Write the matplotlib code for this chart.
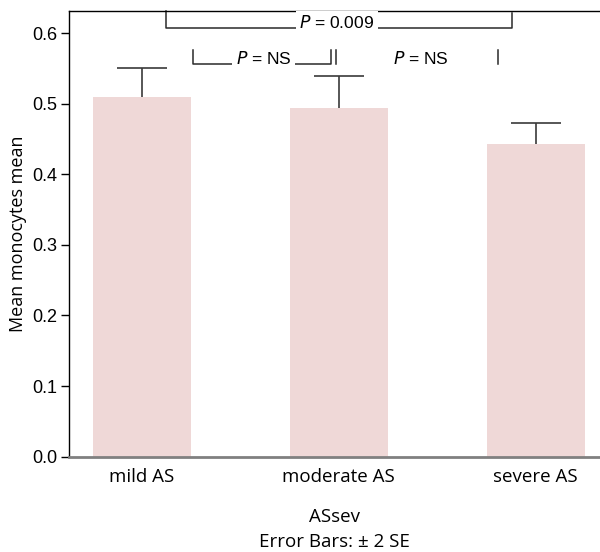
import matplotlib.pyplot as plt

# data
groups = ["mild AS", "moderate AS", "severe AS"]
means = [0.5095, 0.4935, 0.443]
upper = [0.551, 0.5388, 0.4722]   # mean + 2 SE

# comparison annotations
top_p = "0.009"
pair_p = "NS"

narrow = ["Liberation Sans Narrow", "Liberation Sans", "DejaVu Sans"]
body = ["Open Sans", "DejaVu Sans"]

fig = plt.figure(figsize=(6, 5.52), dpi=100)
ax = fig.add_axes([68.5 / 600, 1 - 456.7 / 552, 1 - 68.5 / 600, (456.7 - 10.7) / 552])

x = range(len(groups))
ax.bar(x, means, width=0.5, color="#efd8d7", zorder=1)
err_up = [u - m for u, m in zip(upper, means)]
eb = ax.errorbar(x, means, yerr=[[0] * 3, err_up], fmt="none", ecolor="#3a3a3a",
                 elinewidth=1.2, capsize=18, capthick=1.2, zorder=2)
# only the upper whisker carries a cap
eb[1][0].set_visible(False)

ax.set_xlim(-0.372, 2.326)
ax.set_ylim(0, 0.6317)
ax.set_yticks([0.0, 0.1, 0.2, 0.3, 0.4, 0.5, 0.6])
ax.set_yticklabels([f"{v:.1f}" for v in ax.get_yticks()], family=narrow, fontsize=13)
ax.set_xticks(list(x))
ax.set_xticklabels(groups, family=body, fontsize=13.5)
ax.tick_params(axis="x", length=0, pad=8)
ax.tick_params(axis="y", length=6, width=1, pad=2)

ax.spines["right"].set_visible(False)
ax.spines["bottom"].set_color("#808080")
ax.spines["bottom"].set_linewidth(2)
ax.spines["left"].set_linewidth(1)
ax.spines["top"].set_linewidth(1)

ax.set_ylabel("Mean monocytes mean", family=body, fontsize=13, labelpad=4)
ax.set_xlabel("ASsev\nError Bars: ± 2 SE", family=body, fontsize=13.5,
              labelpad=16, linespacing=1.5)

lc = "#2a2a2a"
# overall bracket mild vs severe
ax.plot([0.124, 0.124, 1.877, 1.877], [0.6317, 0.6068, 0.6068, 0.629],
        color=lc, lw=1.1, clip_on=False)
ax.text(0.99, 0.6068, f"$P$ = {top_p}", ha="center", va="baseline",
        family=narrow, fontsize=12.5,
        bbox=dict(facecolor="white", edgecolor="none", pad=2.5))

# mild vs moderate
ax.plot([0.261, 0.261, 0.960, 0.960], [0.576, 0.5562, 0.5562, 0.576],
        color=lc, lw=1.1)
ax.text(0.618, 0.5562, f"$P$ = {pair_p}", ha="center", va="baseline",
        family=narrow, fontsize=12.5,
        bbox=dict(facecolor="white", edgecolor="none", pad=2.5))

# moderate vs severe
ax.plot([0.984, 0.984], [0.576, 0.5562], color=lc, lw=1.1)
ax.plot([1.809, 1.809], [0.576, 0.5562], color=lc, lw=1.1)
ax.text(1.417, 0.5562, f"$P$ = {pair_p}", ha="center", va="baseline",
        family=narrow, fontsize=12.5)

fig.savefig("out.png", dpi=100)
